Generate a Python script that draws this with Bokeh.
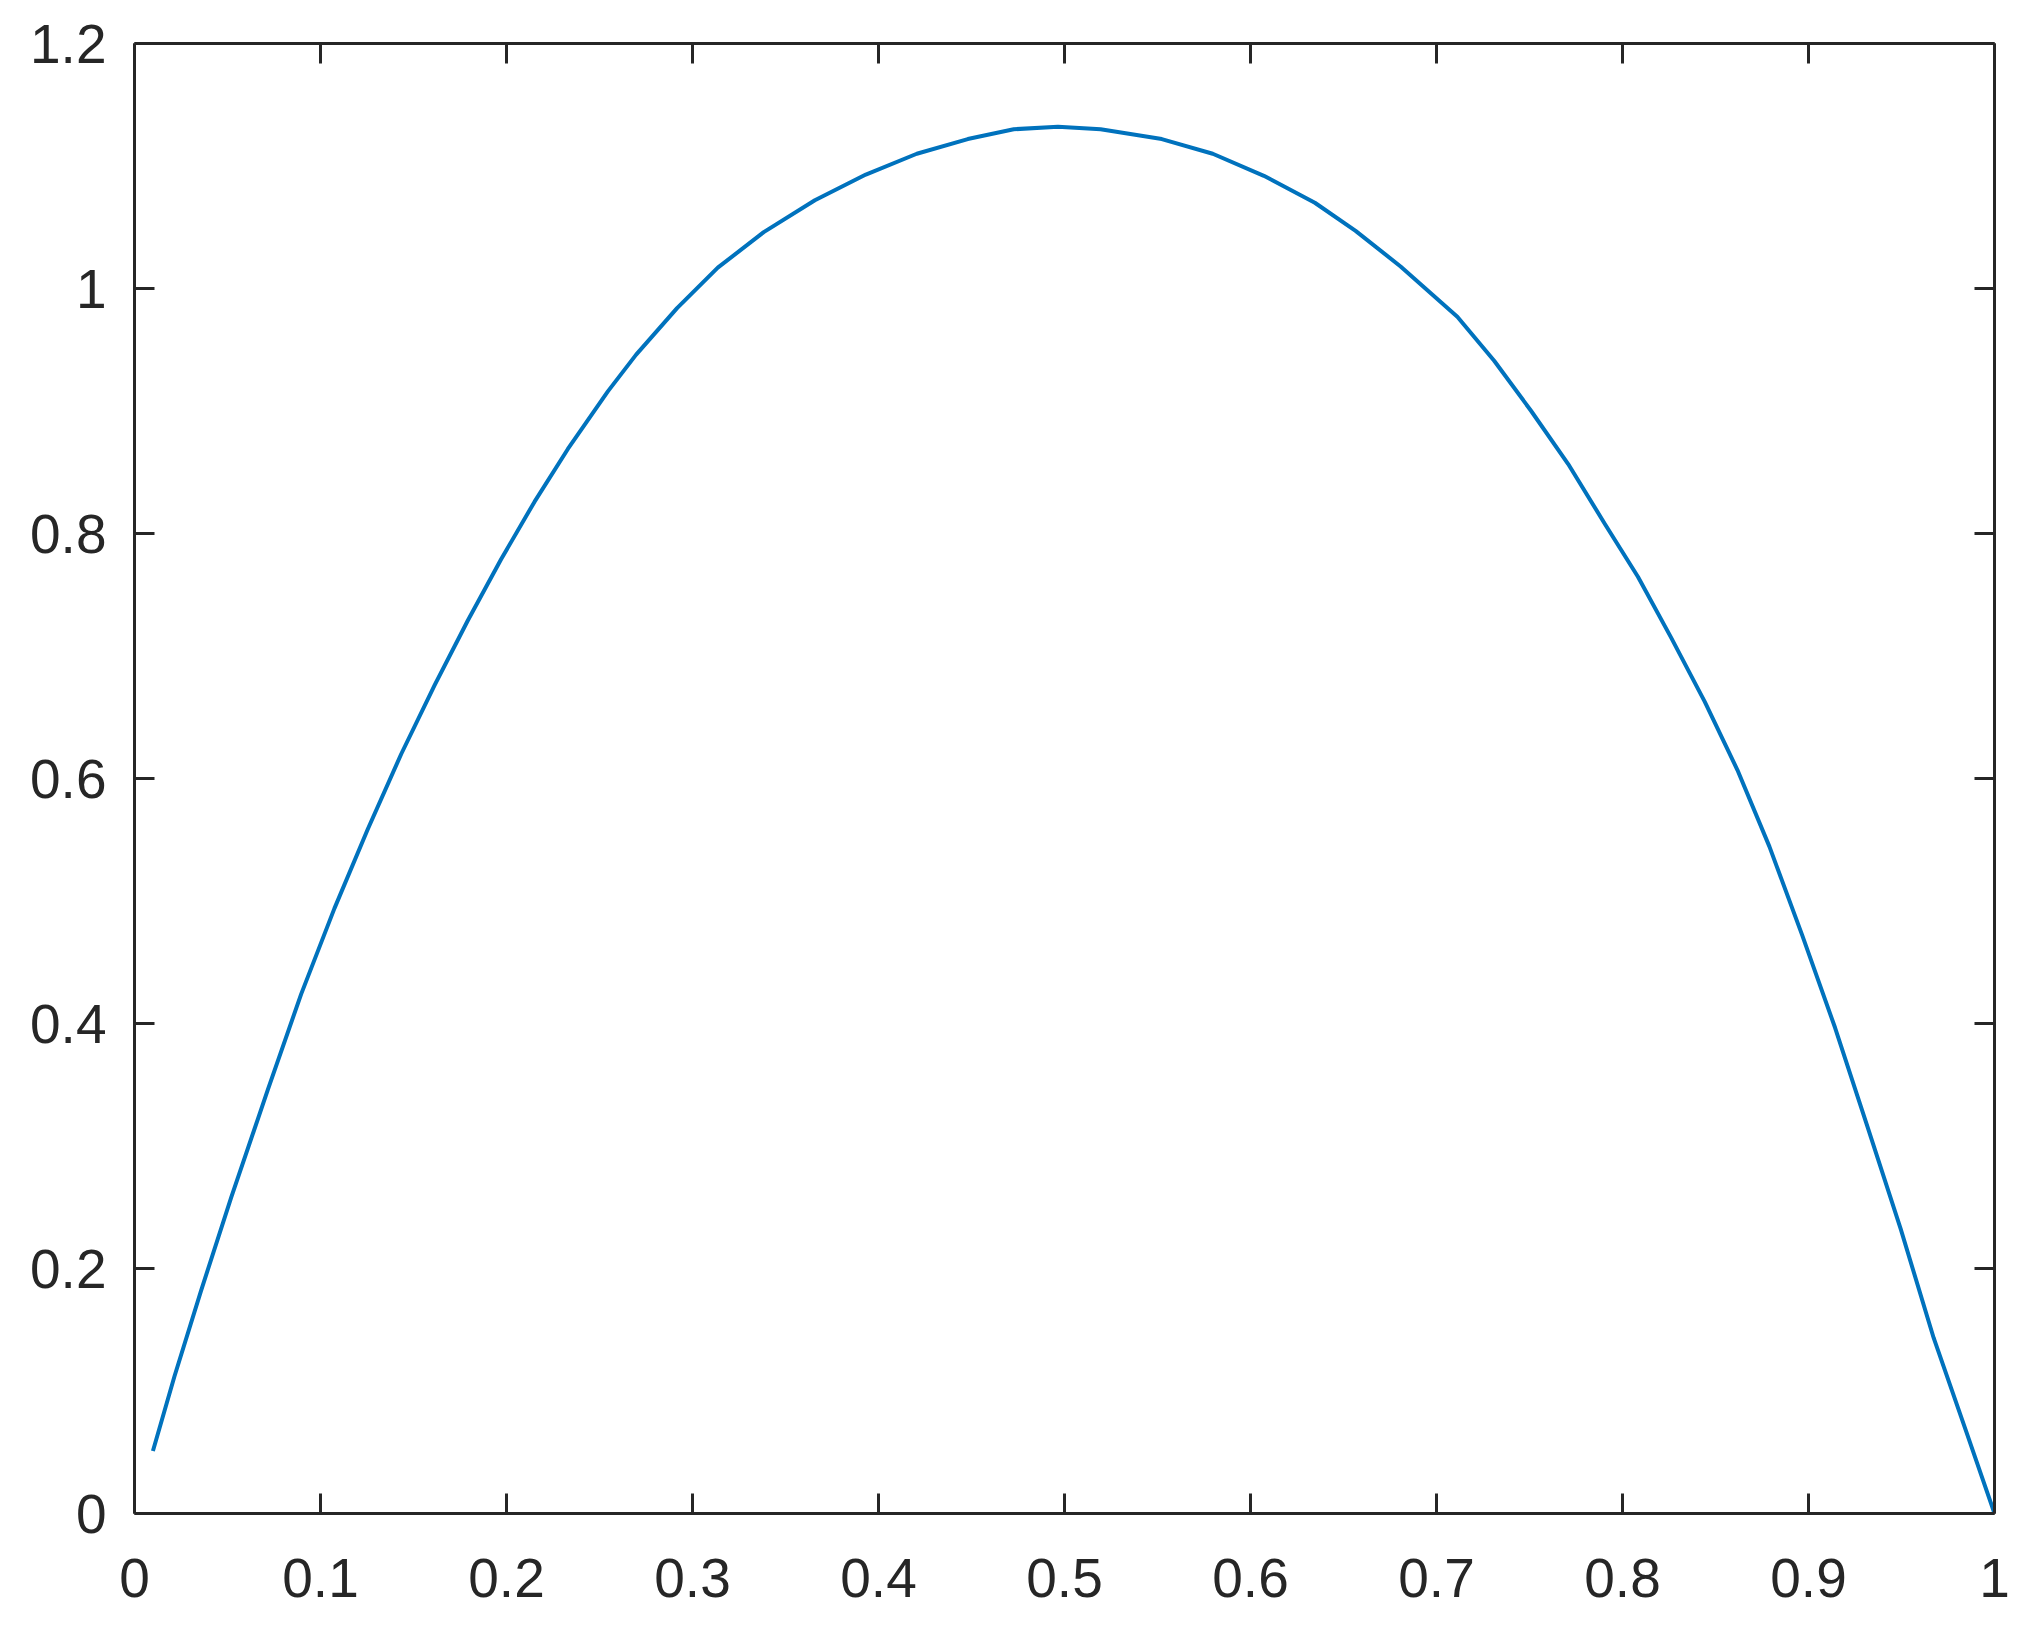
from bokeh.plotting import figure
from bokeh.models import Range1d, FixedTicker, LinearAxis
from bokeh.embed import file_html
from bokeh.resources import INLINE

# ---- data ----
x_vals = [0.0099, 0.0215, 0.0358, 0.052, 0.0717, 0.0896, 0.1075, 0.1254, 0.1434,
          0.1613, 0.1792, 0.1971, 0.2151, 0.233, 0.2545, 0.2697, 0.2917, 0.3136,
          0.3383, 0.3658, 0.3932, 0.4206, 0.448, 0.4727, 0.4965, 0.5194, 0.5523,
          0.5797, 0.6072, 0.6346, 0.6565, 0.6807, 0.7112, 0.731, 0.7509, 0.7708,
          0.7907, 0.8083, 0.826, 0.8442, 0.8618, 0.879, 0.8966, 0.9143, 0.932,
          0.9496, 0.9673, 0.985, 1.0]
y_vals = [0.051, 0.112, 0.182, 0.258, 0.346, 0.424, 0.494, 0.5585, 0.620,
          0.676, 0.729, 0.779, 0.826, 0.869, 0.916, 0.946, 0.984, 1.017,
          1.046, 1.072, 1.093, 1.110, 1.122, 1.130, 1.132, 1.130, 1.122,
          1.110, 1.092, 1.070, 1.047, 1.018, 0.977, 0.941, 0.9, 0.8567,
          0.8074, 0.7647, 0.7154, 0.6628, 0.6069, 0.5444, 0.4721, 0.3965, 0.3143,
          0.2321, 0.1433, 0.066, 0.0]

x_ticks = [0.0, 0.1, 0.2, 0.3, 0.4, 0.5, 0.6, 0.7, 0.8, 0.9, 1.0]
x_tick_labels = ["0", "0.1", "0.2", "0.3", "0.4", "0.5", "0.6", "0.7", "0.8", "0.9", "1"]
y_ticks = [0.0, 0.2, 0.4, 0.6, 0.8, 1.0, 1.2]
y_tick_labels = ["0", "0.2", "0.4", "0.6", "0.8", "1", "1.2"]

AX = "#262626"
FONT = "Liberation Sans"
FS = "55px"

p = figure(width=2034, height=1623, output_backend="svg", toolbar_location=None,
           x_range=Range1d(0, 1), y_range=Range1d(0, 1.2),
           min_border_left=134, min_border_right=40, min_border_top=43,
           min_border_bottom=110, x_axis_location="below", y_axis_location="left")
p.grid.visible = False
p.outline_line_color = None
p.background_fill_color = "white"
p.border_fill_color = "white"

p.line(x_vals, y_vals, line_color="#0072BD", line_width=4, line_join="round")

def style(ax, ticks, labels, show_labels, standoff):
    ax.ticker = FixedTicker(ticks=ticks)
    ax.major_label_overrides = {t: l for t, l in zip(ticks, labels)}
    ax.axis_line_color = AX
    ax.axis_line_width = 3
    ax.major_tick_line_color = AX
    ax.major_tick_line_width = 3
    ax.major_tick_in = 20
    ax.major_tick_out = 0
    ax.minor_tick_line_color = None
    ax.major_label_text_font = FONT
    ax.major_label_text_color = AX
    ax.major_label_standoff = standoff
    if show_labels:
        ax.major_label_text_font_size = FS
    else:
        ax.major_label_text_font_size = "0px"
        ax.major_label_text_alpha = 0

style(p.xaxis[0], x_ticks, x_tick_labels, True, 45)
style(p.yaxis[0], y_ticks, y_tick_labels, True, 28)

top_ax = LinearAxis()
right_ax = LinearAxis()
style(top_ax, x_ticks, x_tick_labels, False, 0)
style(right_ax, y_ticks, y_tick_labels, False, 0)
p.add_layout(top_ax, "above")
p.add_layout(right_ax, "right")

open("out.html", "w").write(file_html(p, INLINE))
